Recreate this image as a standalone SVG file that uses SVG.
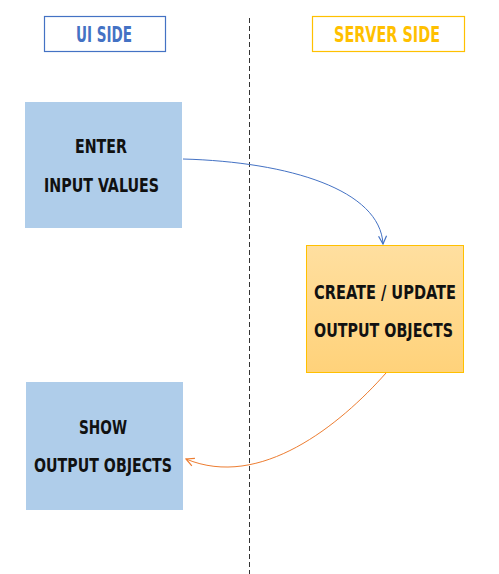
<svg xmlns="http://www.w3.org/2000/svg" width="499" height="574" viewBox="0 0 499 574">
<style>
.lbl{font-family:"DejaVu Sans Condensed","Liberation Sans",sans-serif;font-weight:bold;font-size:19px;text-anchor:middle;fill:#111}
.hdr{font-family:"DejaVu Sans Condensed","Liberation Sans",sans-serif;font-weight:bold;font-size:21px;text-anchor:middle}
.ui{fill:#AFCDEA}
</style>
<defs>
<linearGradient id="og" x1="0" y1="0" x2="0" y2="1">
<stop offset="0" stop-color="#FFDFA0"/>
<stop offset="1" stop-color="#FFD27A"/>
</linearGradient>
<marker id="ab" viewBox="0 0 10 10" refX="9" refY="5" markerWidth="10" markerHeight="10" markerUnits="userSpaceOnUse" orient="auto">
<path d="M1,1 L9,5 L1,9" fill="none" stroke="#4472C4" stroke-width="1.2"/>
</marker>
<marker id="ao" viewBox="0 0 10 10" refX="9" refY="5" markerWidth="10" markerHeight="10" markerUnits="userSpaceOnUse" orient="auto">
<path d="M1,1 L9,5 L1,9" fill="none" stroke="#ED7D31" stroke-width="1.2"/>
</marker>
</defs>
<rect width="499" height="574" fill="#fff"/>
<line x1="249.5" y1="18" x2="249.5" y2="574" stroke="#333" stroke-width="1" stroke-dasharray="5,3"/>
<g id="ui-side">
<rect x="44.5" y="16.5" width="121" height="35" fill="#fff" stroke="#4472C4" stroke-width="1.2"/>
<text class="hdr" x="104" y="42" fill="#4472C4" textLength="56" lengthAdjust="spacingAndGlyphs">UI SIDE</text>
</g>
<g id="server-side">
<rect x="312.5" y="16.5" width="152" height="35" fill="#fff" stroke="#FFC000" stroke-width="1.2"/>
<text class="hdr" x="387" y="42" fill="#FFC000" textLength="106" lengthAdjust="spacingAndGlyphs">SERVER SIDE</text>
</g>
<g id="enter">
<rect class="ui" x="25" y="102" width="157" height="126"/>
<text class="lbl" x="101" y="153" textLength="52" lengthAdjust="spacingAndGlyphs">ENTER</text>
<text class="lbl" x="101.5" y="192" textLength="115" lengthAdjust="spacingAndGlyphs">INPUT VALUES</text>
</g>
<g id="create">
<rect x="306.5" y="245.5" width="157" height="127" fill="url(#og)" stroke="#FFC000" stroke-width="1"/>
<text class="lbl" x="385" y="299" textLength="142" lengthAdjust="spacingAndGlyphs">CREATE / UPDATE</text>
<text class="lbl" x="383.5" y="337" textLength="139" lengthAdjust="spacingAndGlyphs">OUTPUT OBJECTS</text>
</g>
<g id="show">
<rect class="ui" x="26" y="382" width="157" height="128"/>
<text class="lbl" x="103" y="434" textLength="48" lengthAdjust="spacingAndGlyphs">SHOW</text>
<text class="lbl" x="103" y="472" textLength="138" lengthAdjust="spacingAndGlyphs">OUTPUT OBJECTS</text>
</g>
<g id="connectors">
<path d="M183,159 C290,162 380,190 383,244" fill="none" stroke="#4472C4" stroke-width="1" marker-end="url(#ab)"/>
<path d="M386,373 C340,425 260,490 186,459" fill="none" stroke="#ED7D31" stroke-width="1" marker-end="url(#ao)"/>
</g>
</svg>
